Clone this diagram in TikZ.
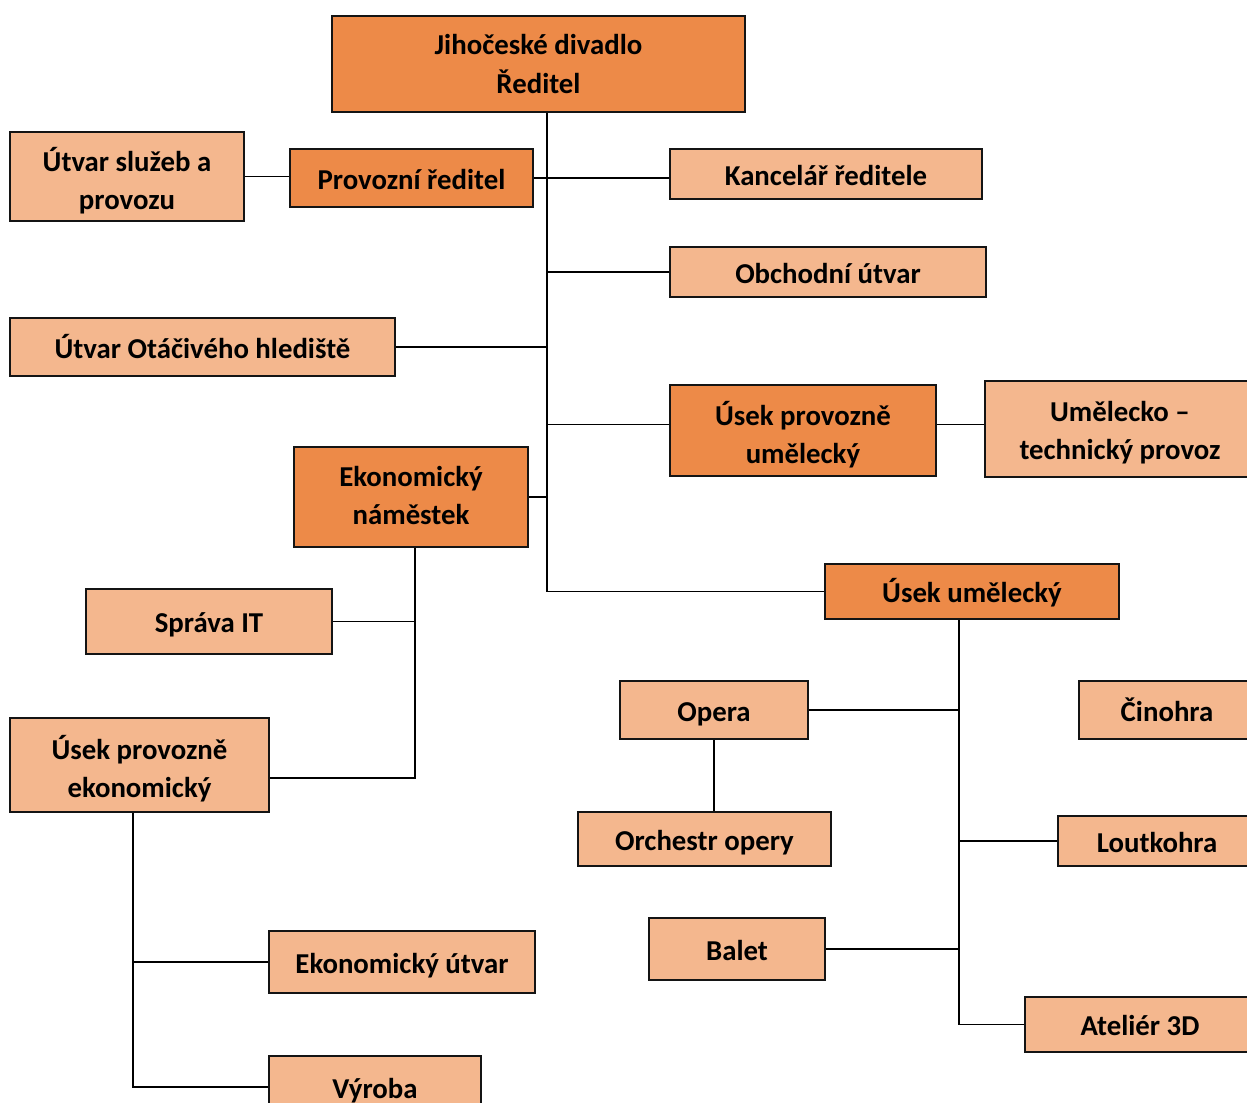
\documentclass[tikz,border=0pt]{standalone}
\usepackage{fontspec}
\setmainfont{Carlito}
\definecolor{dorange}{RGB}{237,138,72}
\definecolor{lorange}{RGB}{244,183,142}
\definecolor{edge}{RGB}{20,20,20}
\tikzset{
  box/.style={draw=edge, line width=1.9pt, inner sep=0pt, align=center,
    font=\fontsize{21.6}{28.5}\selectfont\bfseries, text=black},
  dbox/.style={box, fill=dorange},
  lbox/.style={box, fill=lorange},
  oneline/.style={text height=22pt, text depth=5pt},
  conn/.style={draw=black, line width=0.95pt}
}
\newcommand\bx[7]{\node[#2, minimum width={(#5-#3)*0.75pt}, minimum height={(#6-#4)*0.75pt}] (#1) at ({(#3+#5)/2},{(#4+#6)/2}) {#7};}
\newcommand\tallstrut[1]{\rule{0pt}{#1}}
\newcommand\deepstrut[1]{\rule[-#1]{0pt}{0pt}}
\begin{document}
\begin{tikzpicture}[x=0.75pt,y=-0.75pt]
\useasboundingbox (0,0) rectangle (1247,1103);
\clip (0,0) rectangle (1247,1103);
\coordinate (trunk) at (547,0);
\coordinate (b2) at (415,0);
\coordinate (b3) at (133,0);
\coordinate (b4) at (959,0);
\bx{top}{dbox}{332}{16}{745}{112}{Jihočeské divadlo\\Ředitel}
\bx{us}{lbox}{10}{132}{244}{221}{\tallstrut{24pt}Útvar služeb a\\provozu}
\bx{prov}{dbox,oneline}{290}{149}{533}{207}{Provozní ředitel}
\bx{kanc}{lbox,oneline}{670}{149}{982}{199}{Kancelář ředitele}
\bx{obch}{lbox,oneline}{670}{247}{986}{297}{Obchodní útvar}
\bx{ot}{lbox,oneline}{10}{318}{395}{376}{Útvar Otáčivého hlediště}
\bx{upu}{dbox}{670}{385}{936}{476}{\tallstrut{24pt}Úsek provozně\\umělecký}
\bx{ut}{lbox}{985}{381}{1255}{477}{\tallstrut{20pt}Umělecko –\\technický provoz}
\bx{en}{dbox}{294}{447}{528}{547}{Ekonomický\\náměstek\deepstrut{3pt}}
\bx{uu}{dbox,oneline}{825}{564}{1119}{619}{Úsek umělecký}
\bx{sit}{lbox,oneline}{86}{589}{332}{654}{Správa IT}
\bx{op}{lbox,oneline}{620}{681}{808}{739}{Opera}
\bx{cin}{lbox,oneline}{1079}{681}{1255}{739}{Činohra}
\bx{upe}{lbox}{10}{718}{269}{812}{\tallstrut{23pt}Úsek provozně\\ekonomický}
\bx{orch}{lbox,oneline}{578}{812}{831}{866}{Orchestr opery}
\bx{lout}{lbox,oneline}{1058}{816}{1256}{866}{Loutkohra}
\bx{bal}{lbox,oneline}{649}{918}{825}{980}{Balet}
\bx{eu}{lbox,oneline}{269}{931}{535}{993}{Ekonomický útvar}
\bx{at}{lbox,oneline}{1025}{997}{1255}{1052}{Ateliér 3D}
\bx{vyr}{lbox,oneline}{269}{1056}{481}{1118}{Výroba}
\coordinate (upuw) at ([yshift=4.5pt]upu.west);
\coordinate (upue) at ([yshift=4.5pt]upu.east);
\coordinate (upej) at ([yshift=-9.75pt]upe.east);
% connectors
\draw[conn] (top.south -| trunk) -- (trunk |- uu.west) -- (uu.west);
\draw[conn] (us.east) -- (us.east -| prov.west);
\draw[conn] (prov.east) -- (prov.east -| kanc.west);
\draw[conn] (trunk |- obch.west) -- (obch.west);
\draw[conn] (ot.east) -- (ot.east -| trunk);
\draw[conn] (upuw -| trunk) -- (upuw);
\draw[conn] (upue) -- (upue -| ut.west);
\draw[conn] (en.east) -- (en.east -| trunk);
\draw[conn] (en.south -| b2) -- (b2 |- upej) -- (upej);
\draw[conn] (sit.east) -- (sit.east -| b2);
\draw[conn] (upe.south -| b3) -- (b3 |- vyr.west) -- (vyr.west);
\draw[conn] (b3 |- eu.west) -- (eu.west);
\draw[conn] (uu.south -| b4) -- (b4 |- at.west) -- (at.west);
\draw[conn] (op.east) -- (op.east -| b4);
\draw[conn] (b4 |- lout.west) -- (lout.west);
\draw[conn] (bal.east) -- (bal.east -| b4);
\draw[conn] (op.south) -- (op.south |- orch.north);
\end{tikzpicture}
\end{document}
